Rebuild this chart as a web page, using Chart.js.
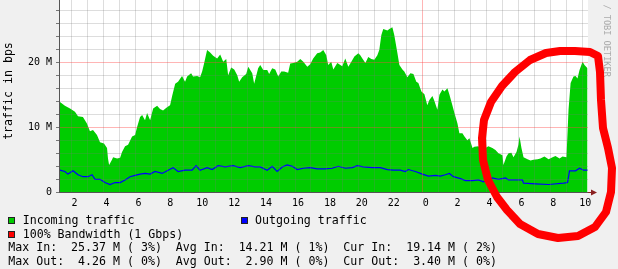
<!DOCTYPE html>
<html>
<head>
<meta charset="utf-8">
<script src="https://cdn.jsdelivr.net/npm/chart.js@4.4.0/dist/chart.umd.min.js"></script>
<style>
  html, body { margin: 0; padding: 0; background: #f0f0f0; }
  #wrap { position: relative; width: 618px; height: 269px; overflow: hidden; font-family: "DejaVu Sans Mono", monospace; color: #000; }
  #c { position: absolute; left: 0; top: 0; }
  .txt { position: absolute; font-size: 11.6px; line-height: 14px; white-space: pre; }
  .box { position: absolute; width: 5px; height: 5px; border: 1px solid #222; }
  #ylab { position: absolute; left: 7.5px; top: 91px; font-size: 11.6px; white-space: nowrap; transform: translate(-50%, -50%) rotate(-90deg); }
  #mark { position: absolute; left: 601px; top: -37.5px; font-size: 8.6px; line-height: 12px; color: #aaa; writing-mode: vertical-rl; white-space: nowrap; }
  #circle { position: absolute; left: 0; top: 0; }
</style>
</head>
<body>
<div id="wrap">
  <canvas id="c" width="618" height="269"></canvas>
  <div id="ylab">traffic in bps</div>
  <div id="mark">RRDTOOL / TOBI OETIKER</div>

  <div class="box" style="left:8px;top:217px;background:#00cc00"></div>
  <div class="txt" style="left:22.7px;top:213px">Incoming traffic</div>
  <div class="box" style="left:241px;top:217px;background:#0000ff"></div>
  <div class="txt" style="left:255px;top:213px">Outgoing traffic</div>
  <div class="box" style="left:8px;top:231px;background:#ff0000"></div>
  <div class="txt" style="left:22.7px;top:227px">100% Bandwidth (1 Gbps)</div>
  <div class="txt" style="left:8.3px;top:240px">Max In:  25.37 M ( 3%)  Avg In:  14.21 M ( 1%)  Cur In:  19.14 M ( 2%)</div>
  <div class="txt" style="left:8.3px;top:254px">Max Out:  4.26 M ( 0%)  Avg Out:  2.90 M ( 0%)  Cur Out:  3.40 M ( 0%)</div>

  <svg id="circle" width="618" height="269">
    <path d="M497,197 L507,210 L520,224 L538,234 L558,238 L578,236 L595,227 L606,212 L611,192 L612,168 L608,148 L603,128 L601,100 L600,72 L598,56 L590,52 L575,51 L560,51 L546,53 L530,60 L515,72 L502,86 L491,102 L484,120 L482,138 L483,160 L488,180 Z"
      fill="none" stroke="#ff0000" stroke-width="8" stroke-linejoin="round" stroke-linecap="round"/>
  </svg>
</div>

<script>
// hours since midnight of the first day, traffic in Mbit/s
const inHours = [1.21, 1.58, 1.90, 2.21, 2.40, 2.71, 2.96, 3.15, 3.34, 3.59, 3.78, 4.03, 4.22, 4.28, 4.35, 4.53, 4.60, 4.85, 5.04, 5.16,
  5.35, 5.54, 5.79, 5.98, 6.10, 6.29, 6.42, 6.60, 6.73, 6.92, 7.11, 7.36, 7.54, 7.73, 7.98, 8.17, 8.30, 8.49, 8.67, 8.92,
  9.11, 9.24, 9.49, 9.61, 9.87, 10.05, 10.18, 10.30, 10.49, 10.68, 10.87, 11.12, 11.31, 11.50, 11.69, 11.81, 12.00, 12.19, 12.38, 12.50,
  12.69, 12.94, 13.07, 13.32, 13.44, 13.69, 13.82, 14.01, 14.26, 14.38, 14.57, 14.76, 14.95, 15.14, 15.32, 15.57, 15.70, 15.89, 16.14, 16.33,
  16.52, 16.77, 16.95, 17.14, 17.39, 17.58, 17.77, 17.96, 18.08, 18.27, 18.40, 18.65, 18.84, 18.96, 19.15, 19.34, 19.53, 19.72, 19.97, 20.09,
  20.22, 20.41, 20.59, 20.78, 20.97, 21.16, 21.28, 21.41, 21.53, 21.79, 21.91, 22.10, 22.22, 22.41, 22.54, 22.73, 22.85, 23.04, 23.23, 23.42,
  23.60, 23.73, 23.92, 24.11, 24.29, 24.42, 24.61, 24.73, 24.92, 25.05, 25.24, 25.36, 25.55, 25.67, 25.86, 25.99, 26.18, 26.30, 26.49, 26.62,
  26.80, 26.93, 27.12, 27.24, 27.49, 27.68, 27.93, 28.12, 28.37, 28.56, 28.75, 29.00, 29.06, 29.25, 29.38, 29.56, 29.69, 29.88, 30.00, 30.07,
  30.19, 30.32, 30.57, 30.76, 30.94, 31.20, 31.38, 31.63, 31.89, 32.14, 32.32, 32.58, 32.76, 33.01, 33.14, 33.27, 33.45, 33.58, 33.70, 33.83,
  34.02, 34.14, 34.33];
const inMbps = [14.0, 13.3, 12.9, 12.4, 11.7, 11.6, 10.6, 9.4, 9.6, 8.8, 7.7, 7.5, 6.8, 5.2, 4.2, 5.0, 5.4, 5.2, 5.3, 6.2,
  7.1, 7.3, 8.6, 8.8, 10.0, 11.6, 11.9, 11.1, 12.2, 11.1, 12.9, 13.3, 12.8, 12.6, 13.1, 13.4, 14.8, 16.7, 17.0, 17.9,
  17.0, 17.8, 18.3, 17.8, 17.9, 17.7, 18.6, 19.8, 21.9, 21.5, 21.0, 20.6, 21.2, 20.1, 20.5, 18.0, 19.2, 18.9, 18.0, 17.0,
  17.7, 18.2, 19.3, 18.3, 16.7, 19.1, 19.6, 18.8, 18.8, 18.2, 19.1, 18.9, 17.8, 18.6, 18.6, 18.4, 19.8, 19.9, 20.1, 20.5,
  20.1, 19.3, 19.7, 20.6, 21.4, 21.5, 21.9, 21.1, 19.6, 20.1, 18.9, 19.9, 19.6, 19.4, 20.6, 19.3, 20.1, 20.9, 21.4, 21.1,
  20.6, 19.9, 20.8, 20.5, 20.4, 21.1, 21.9, 24.2, 25.1, 24.9, 25.1, 25.4, 24.2, 21.5, 19.6, 18.9, 18.6, 17.7, 18.3, 18.2,
  17.0, 16.8, 15.5, 15.1, 13.4, 14.2, 14.8, 14.1, 12.7, 15.0, 15.8, 15.5, 16.0, 15.1, 13.4, 12.2, 10.6, 9.1, 9.1, 8.6,
  8.0, 8.3, 6.8, 7.0, 7.1, 6.6, 6.8, 7.1, 6.8, 6.5, 6.0, 5.7, 4.2, 5.5, 6.0, 6.1, 5.4, 6.2, 7.3, 8.6,
  6.8, 5.4, 5.1, 4.9, 5.0, 5.1, 5.2, 5.5, 5.1, 5.4, 5.6, 5.2, 5.5, 5.4, 12.7, 16.8, 17.8, 17.9, 17.5, 18.8,
  20.1, 19.6, 19.1];

const outHours = [1.27, 1.58, 1.77, 2.09, 2.40, 2.71, 3.03, 3.28, 3.47, 3.78, 4.09, 4.41, 4.72, 5.04, 5.35, 5.66, 5.98, 6.29, 6.60, 6.92,
  7.23, 7.67, 8.05, 8.36, 8.67, 9.11, 9.55, 9.80, 10.05, 10.49, 10.81, 11.18, 11.62, 12.12, 12.56, 13.07, 13.50, 13.82, 14.26, 14.57,
  14.88, 15.20, 15.51, 15.83, 16.14, 16.52, 16.95, 17.39, 17.90, 18.33, 18.71, 19.15, 19.59, 19.90, 20.28, 20.84, 21.35, 21.79, 22.16, 22.60,
  22.91, 23.10, 23.54, 23.98, 24.36, 24.80, 25.11, 25.42, 25.67, 25.93, 26.37, 26.68, 27.12, 27.49, 27.81, 28.37, 28.75, 29.19, 29.38, 30.25,
  30.32, 31.07, 31.89, 32.83, 33.08, 33.20, 33.58, 33.83, 34.08, 34.33];
const outMbps = [3.4, 3.2, 2.8, 3.3, 2.7, 2.4, 2.4, 2.7, 2.0, 2.0, 1.5, 1.2, 1.5, 1.5, 1.9, 2.4, 2.6, 2.8, 2.9, 2.8,
  3.2, 2.9, 3.4, 3.8, 3.2, 3.4, 3.4, 4.1, 3.4, 3.8, 3.5, 4.1, 3.9, 4.1, 3.8, 4.1, 3.9, 3.9, 3.4, 4.0,
  3.2, 3.9, 4.2, 4.0, 3.5, 3.7, 3.8, 3.6, 3.6, 3.7, 4.0, 3.7, 3.8, 4.1, 3.9, 3.8, 3.8, 3.5, 3.4, 3.4,
  3.2, 3.5, 3.2, 2.8, 2.5, 2.6, 2.5, 2.7, 2.9, 2.4, 2.1, 1.8, 1.8, 1.9, 1.6, 2.2, 2.0, 2.2, 1.9, 1.9,
  1.4, 1.3, 1.2, 1.4, 1.5, 3.3, 3.3, 3.7, 3.4, 3.4];

// hourly grid lines, labels every 2 hours (24 = midnight)
const xGridHours = [2, 3, 4, 5, 6, 7, 8, 9, 10, 11, 12, 13, 14, 15, 16, 17, 18, 19, 20, 21, 22, 23, 24, 25, 26, 27, 28, 29, 30, 31, 32, 33, 34];
const xTickValues = [2, 4, 6, 8, 10, 12, 14, 16, 18, 20, 22, 24, 26, 28, 30, 32, 34];
const xTickLabels = ['2', '4', '6', '8', '10', '12', '14', '16', '18', '20', '22', '0', '2', '4', '6', '8', '10'];
const yTickValues = [0, 10, 20];
const yTickLabels = ['0', '10 M', '20 M'];

const mono = 'DejaVu Sans Mono';
const gridGray = 'rgba(120,120,120,0.25)';
const gridRed = 'rgba(255,70,70,0.4)';

const plotBg = {
  id: 'plotBg',
  beforeDraw(chart) {
    const { ctx, chartArea: a } = chart;
    ctx.save();
    ctx.fillStyle = '#ffffff';
    ctx.fillRect(a.left, a.top, a.right - a.left, a.bottom - a.top);
    ctx.restore();
  }
};

const axisArrow = {
  id: 'axisArrow',
  afterDraw(chart) {
    const { ctx, chartArea: a } = chart;
    const y = Math.round(a.bottom) + 0.5;
    ctx.save();
    ctx.strokeStyle = '#8b2020';
    ctx.fillStyle = '#8b2020';
    ctx.beginPath();
    ctx.moveTo(a.right, y);
    ctx.lineTo(a.right + 5, y);
    ctx.stroke();
    ctx.beginPath();
    ctx.moveTo(a.right + 9, y);
    ctx.lineTo(a.right + 3, y - 3);
    ctx.lineTo(a.right + 3, y + 3);
    ctx.closePath();
    ctx.fill();
    ctx.restore();
  }
};

const inPoints = inHours.map((h, i) => ({ x: h, y: inMbps[i] }));
const outPoints = outHours.map((h, i) => ({ x: h, y: outMbps[i] }));

new Chart(document.getElementById('c').getContext('2d'), {
  type: 'line',
  data: {
    datasets: [{
      label: 'Incoming traffic',
      data: inPoints,
      order: 2,
      borderWidth: 0,
      backgroundColor: '#00cc00',
      fill: 'origin',
      pointRadius: 0,
      tension: 0
    }, {
      label: 'Outgoing traffic',
      data: outPoints,
      order: 1,
      borderColor: '#0000ff',
      borderWidth: 1.2,
      fill: false,
      pointRadius: 0,
      tension: 0
    }]
  },
  options: {
    responsive: false,
    animation: false,
    devicePixelRatio: 1,
    layout: { padding: { left: 0, right: 30, top: 0, bottom: 0 } },
    plugins: { legend: { display: false }, tooltip: { enabled: false } },
    scales: {
      x: {
        type: 'linear',
        min: 1.21,
        max: 34.36,
        afterBuildTicks: s => { s.ticks = xGridHours.map(v => ({ value: v })); },
        grid: {
          z: 1,
          drawTicks: false,
          color: ctx => (ctx.tick && ctx.tick.value === 24) ? gridRed : gridGray
        },
        border: { color: '#555', z: 2 },
        ticks: {
          autoSkip: false,
          maxRotation: 0,
          padding: 5,
          labelOffset: 3,
          color: '#000',
          font: { family: mono, size: 10 },
          callback: v => {
            const i = xTickValues.indexOf(v);
            return i < 0 ? '' : xTickLabels[i];
          }
        },
        afterFit: s => { s.height = 76.7; s.paddingLeft = 0; s.paddingRight = 0; }
      },
      y: {
        min: 0,
        max: 29.58,
        grid: {
          z: 1,
          drawTicks: true,
          tickLength: 3,
          tickColor: '#777',
          color: ctx => (ctx.tick && ctx.tick.value > 0 && ctx.tick.value % 10 === 0) ? gridRed : gridGray
        },
        border: { color: '#555', z: 2 },
        ticks: {
          stepSize: 2,
          autoSkip: false,
          includeBounds: false,
          padding: 4,
          color: '#000',
          font: { family: mono, size: 10 },
          callback: v => {
            const i = yTickValues.indexOf(v);
            return i < 0 ? '' : yTickLabels[i];
          }
        },
        afterFit: s => { s.width = 59; s.paddingTop = 0; s.paddingBottom = 0; }
      }
    }
  },
  plugins: [plotBg, axisArrow]
});
</script>
</body>
</html>
